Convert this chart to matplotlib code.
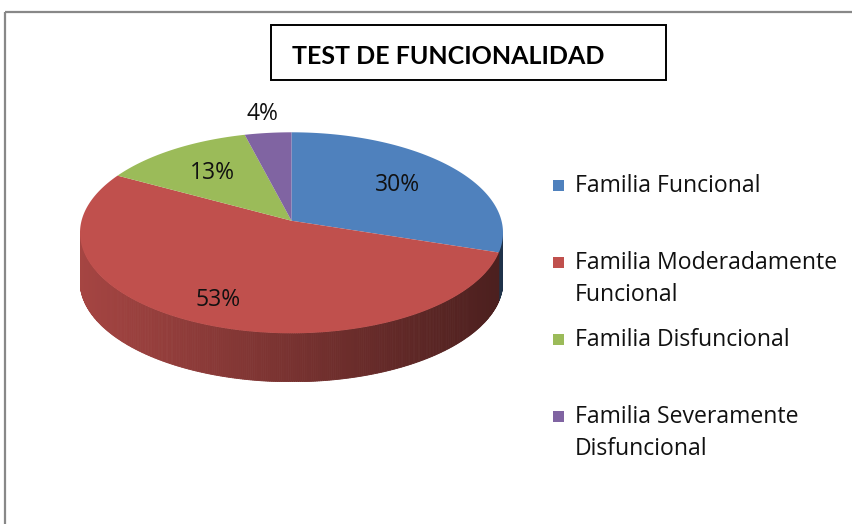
import numpy as np
import matplotlib
matplotlib.use("Agg")
import matplotlib.pyplot as plt
from matplotlib.patches import Rectangle, Polygon
import matplotlib.colors as mcolors

# data
categories = ["Familia Funcional",
              "Familia Moderadamente\nFuncional",
              "Familia Disfuncional",
              "Familia Severamente\nDisfuncional"]
percentages = [30, 53, 13, 4]
colors = ["#4F81BD", "#C0504D", "#9BBB59", "#8064A2"]
title = "TEST DE FUNCIONALIDAD"

plt.rcParams['font.family'] = ['Open Sans', 'DejaVu Sans']

W, H = 853, 524
fig = plt.figure(figsize=(W / 100, H / 100), dpi=100)

# background axes in pixel coords for frame, title box and legend
bg = fig.add_axes([0, 0, 1, 1])
bg.set_xlim(0, W)
bg.set_ylim(H, 0)
bg.axis('off')
bg.add_patch(Rectangle((5, 12), W + 10, H + 10, fill=False, edgecolor='#888888', lw=1.6))
bg.add_patch(Rectangle((271, 25), 395, 55, fill=False, edgecolor='black', lw=1.4))
bg.text(292, 56, title, fontsize=18, fontweight='bold', va='center', ha='left',
        family=['Lato', 'DejaVu Sans'])

# pie geometry (pixels)
cx, cy, rx, ry, depth = 291.5, 232.8, 211.5, 100.5, 48.5
d = depth / ry
k = 0.12  # perspective: pie centre appears above the ellipse centre
ax = fig.add_axes([(cx - rx) / W, (H - (cy + ry + depth)) / H,
                   2 * rx / W, (2 * ry + depth) / H])
ax.set_xlim(-1, 1)
ax.set_ylim(-1 - d, 1)
ax.axis('off')


def proj(phi, r=1.0):
    # point on the tilted disc (angle phi in degrees) -> axes coords
    p = np.radians(phi)
    s, c = r * np.sin(p), r * np.cos(p)
    return np.sqrt(1 - k * k) * c / (1 + k * s), (s + k) / (1 + k * s)


cum = np.concatenate([[0], np.cumsum(percentages)]) / np.sum(percentages)
label_r = [0.65, 0.8, 0.65, 1.25]
for i, (p, c) in enumerate(zip(percentages, colors)):
    a0 = 90 - 360 * cum[i]
    a1 = 90 - 360 * cum[i + 1]
    phis = np.linspace(a0, a1, max(int(abs(a1 - a0) * 2), 2))
    X, Y = proj(phis)
    # top face
    ax.add_patch(Polygon([(0, k)] + list(zip(X, Y)), closed=True, facecolor=c,
                         edgecolor='none', zorder=3))
    # side wall with horizontal shading
    base = np.array(mcolors.to_rgb(c))
    for j in range(len(phis) - 1):
        if Y[j] + Y[j + 1] > 0:
            continue
        xm = (X[j] + X[j + 1]) / 2
        col = np.clip(base * (0.86 - 0.235 * (xm + 1)), 0, 1)
        pts = [(X[j], Y[j]), (X[j + 1], Y[j + 1]),
               (X[j + 1], Y[j + 1] - d), (X[j], Y[j] - d)]
        ax.add_patch(Polygon(pts, closed=True, facecolor=col, edgecolor=col,
                             lw=0.6, zorder=1))
    # percent label
    lx, ly = proj((a0 + a1) / 2, label_r[i])
    ax.text(lx, ly, "%d%%" % p, fontsize=16.5, ha='center', va='center',
            color='#111111', zorder=5)

# legend
for i, (lab, c) in enumerate(zip(categories, colors)):
    y0 = 186 + i * 77
    bg.add_patch(Rectangle((553, y0 - 6), 11, 11, facecolor=c, edgecolor='none'))
    for j, line in enumerate(lab.split("\n")):
        bg.text(575, y0 + j * 32, line, fontsize=16.6, va='center', ha='left',
                color='#111111')

fig.savefig("out.png", dpi=100)
